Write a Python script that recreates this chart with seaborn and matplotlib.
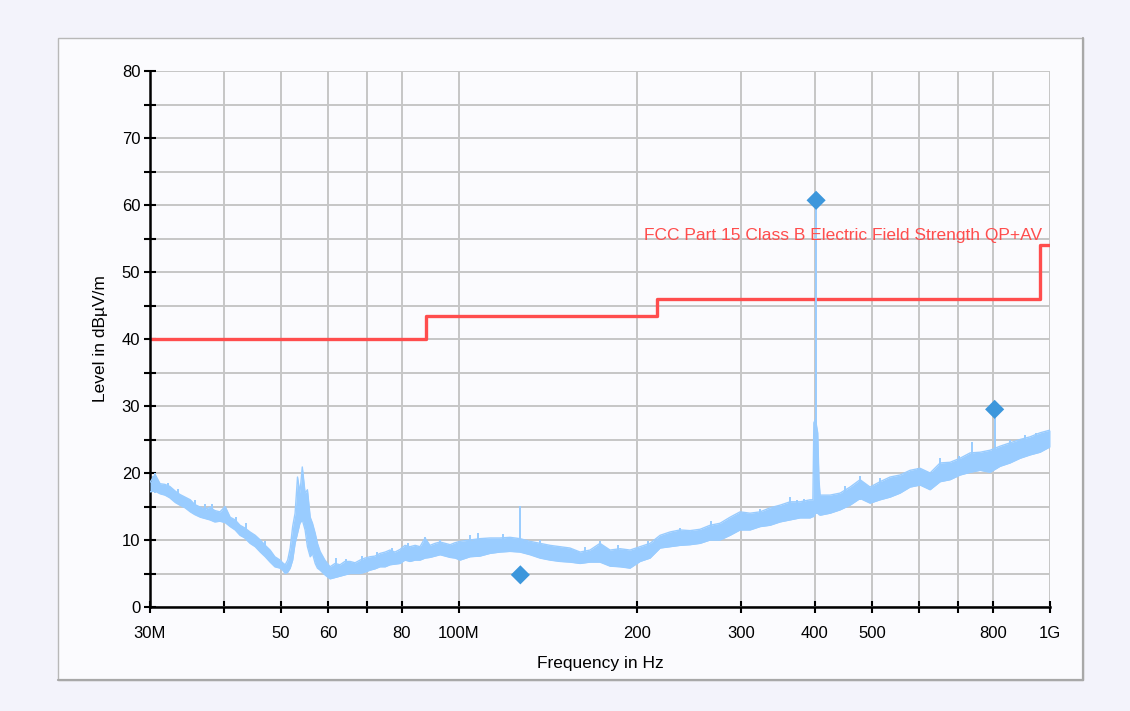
import numpy as np
import pandas as pd
import matplotlib
matplotlib.use("Agg")
import matplotlib.pyplot as plt
import seaborn as sns
from matplotlib.patches import Rectangle
from matplotlib.lines import Line2D
from matplotlib.ticker import FixedLocator, FixedFormatter, NullLocator, MultipleLocator

# ---------------- data ----------------
trace_freq_mhz = [
    30.0, 30.6, 31.2, 31.8, 32.4, 33.1, 33.7, 34.4, 35.1, 35.7,
    36.5, 37.2, 37.9, 38.6, 39.4, 40.2, 41.0, 41.8, 42.6, 43.4,
    44.3, 45.2, 46.1, 47.0, 47.9, 48.8, 49.8, 50.3, 50.8, 51.3,
    51.8, 52.3, 52.8, 53.3, 53.8, 54.3, 54.9, 55.4, 56.0, 56.5,
    57.1, 57.6, 58.2, 59.3, 60.5, 61.7, 62.9, 64.1, 65.4, 66.7,
    68.0, 69.3, 70.7, 72.1, 73.5, 75.0, 76.4, 77.9, 79.5, 81.0,
    82.6, 84.3, 85.9, 87.6, 89.3, 91.1, 92.9, 94.7, 96.6, 98.5,
    100.4, 104.4, 108.5, 112.8, 117.3, 122.0, 126.8, 131.9, 137.1, 142.6,
    148.2, 154.1, 160.3, 166.6, 173.2, 180.1, 187.3, 194.7, 202.5, 210.5,
    218.9, 227.6, 236.6, 246.0, 255.8, 266.0, 276.5, 287.5, 298.9, 310.8,
    323.2, 336.0, 349.4, 363.2, 377.7, 392.7, 397.0, 398.5, 401.0, 404.5,
    406.5, 408.3, 424.5, 441.4, 458.9, 477.1, 496.1, 515.8, 536.3, 557.6,
    579.8, 602.8, 626.8, 651.7, 677.6, 704.5, 732.5, 761.6, 791.8, 823.3,
    856.0, 890.0, 925.4, 962.1, 1000.0,
]
trace_hi = [
    18.6, 19.8, 18.4, 18.3, 18.0, 17.3, 16.8, 16.4, 16.0, 15.3,
    14.9, 14.6, 14.9, 14.4, 14.2, 15.0, 13.4, 13.0, 12.2, 11.8,
    11.2, 10.7, 10.0, 9.2, 8.5, 7.5, 7.0, 6.6, 6.3, 7.0,
    8.8, 12.0, 14.0, 19.4, 17.0, 20.9, 17.0, 17.5, 13.4, 12.5,
    11.0, 9.5, 8.3, 7.0, 6.0, 6.5, 6.3, 6.8, 6.8, 6.6,
    7.0, 7.3, 7.5, 7.6, 8.0, 8.2, 8.5, 8.2, 8.6, 9.2,
    9.0, 9.2, 9.0, 10.3, 9.2, 9.5, 9.7, 9.5, 9.3, 9.6,
    9.8, 10.0, 10.2, 10.3, 10.3, 10.4, 10.2, 9.8, 9.5, 9.2,
    9.0, 8.8, 8.2, 8.5, 9.5, 8.5, 8.7, 8.5, 9.0, 9.5,
    10.7, 11.2, 11.5, 11.4, 11.6, 12.2, 12.5, 13.4, 14.2, 14.0,
    14.2, 14.8, 15.2, 15.7, 15.7, 16.0, 16.0, 27.5, 28.0, 26.0,
    19.0, 16.7, 16.7, 17.0, 17.9, 19.0, 17.9, 18.7, 19.4, 19.7,
    20.4, 20.7, 20.0, 21.5, 21.6, 22.2, 23.0, 23.1, 23.4, 24.0,
    24.5, 25.0, 25.4, 26.0, 26.4,
]
trace_lo = [
    17.2, 17.3, 16.9, 16.7, 16.3, 15.6, 15.2, 14.8, 14.2, 13.8,
    13.4, 13.2, 13.0, 12.7, 12.8, 12.6, 12.0, 11.5, 10.7, 10.3,
    9.5, 9.0, 8.2, 7.5, 6.7, 6.0, 5.8, 5.5, 5.0, 5.2,
    5.8, 7.0, 9.5, 11.0, 12.5, 13.0, 11.5, 9.0, 7.5, 8.0,
    6.5, 5.8, 5.5, 4.8, 4.2, 4.4, 4.6, 4.8, 5.0, 5.0,
    5.0, 5.2, 5.5, 5.7, 6.0, 6.0, 6.3, 6.4, 6.5, 7.0,
    6.8, 7.0, 7.0, 7.3, 7.4, 7.6, 7.8, 7.6, 7.4, 7.3,
    7.0, 7.5, 7.6, 8.0, 8.2, 8.3, 8.2, 7.8, 7.3, 7.0,
    6.8, 6.7, 6.5, 6.7, 6.7, 6.1, 6.0, 5.8, 6.8, 7.3,
    8.8, 9.0, 9.2, 9.3, 9.5, 10.0, 10.0, 10.7, 11.5, 11.5,
    12.0, 12.2, 12.7, 13.0, 13.3, 13.3, 13.5, 13.5, 14.0, 14.0,
    13.8, 13.7, 14.0, 14.5, 15.2, 16.2, 15.5, 16.0, 16.4, 17.0,
    17.9, 18.2, 17.5, 18.7, 19.0, 19.7, 20.1, 20.4, 20.1, 21.0,
    21.5, 22.2, 22.7, 23.1, 23.9,
]

# narrow peaks standing out of the noise band
spike_freq_mhz = [
    30.4, 30.6, 31.0, 32.2, 33.4, 35.7, 37.2, 38.2, 40.2, 42.0,
    43.6, 47.0, 62.0, 64.3, 68.5, 72.6, 77.0, 82.0, 87.6, 92.9,
    104.4, 107.5, 118.8, 127.0, 137.1, 163.4, 173.2, 185.8, 208.9, 236.6,
    267.0, 293.0, 323.2, 355.6, 363.2, 373.0, 383.5, 402.0, 450.0, 477.1,
    515.8, 597.0, 651.7, 702.0, 737.0, 806.0, 856.0, 906.0, 948.0,
]
spike_top = [
    19.5, 20.0, 19.0, 18.5, 17.6, 16.0, 15.3, 15.4, 15.0, 13.5,
    12.6, 9.8, 7.3, 7.1, 7.6, 8.2, 8.8, 9.5, 10.5, 10.0,
    10.8, 11.0, 10.9, 15.1, 10.0, 9.0, 9.8, 9.2, 9.8, 11.8,
    12.8, 13.6, 14.6, 15.2, 16.4, 16.0, 16.1, 60.6, 18.0, 19.5,
    19.2, 20.7, 22.2, 22.6, 24.6, 29.5, 25.0, 25.7, 26.0,
]
spike_base = [
    17.5, 17.0, 17.0, 16.5, 15.5, 14.0, 13.3, 13.2, 13.0, 11.5,
    10.5, 7.8, 5.3, 5.1, 5.6, 6.2, 6.8, 7.5, 8.0, 8.0,
    8.8, 9.0, 8.9, 9.0, 8.0, 7.0, 7.0, 7.2, 7.8, 9.8,
    10.8, 11.6, 12.6, 13.2, 14.0, 14.0, 14.1, 16.0, 16.0, 16.0,
    17.2, 18.7, 19.0, 20.6, 21.0, 22.0, 23.0, 23.7, 24.0,
]

marker_freq_mhz = [127.0, 402.0, 806.0]
marker_level = [4.8, 60.7, 29.5]

limit_freq_mhz = [30, 88, 88, 216, 216, 960, 960, 1000]
limit_level = [40, 40, 43.5, 43.5, 46, 46, 54, 54]
limit_name = "FCC Part 15 Class B Electric Field Strength QP+AV"

xtick_mhz = [30, 40, 50, 60, 70, 80, 100, 200, 300, 400, 500, 600, 700, 800, 1000]
xtick_labels = ["30M", "", "50", "60", "", "80", "100M", "200", "300", "400", "500", "", "", "800", "1G"]

# ---------------- style ----------------
sns.set_theme(style="white")
plt.rcParams["font.family"] = ["Liberation Sans", "DejaVu Sans"]

W, H = 1130, 711
BG = "#f3f3fb"
PANEL = "#fbfbfe"
TRACE = "#99ccff"
RED = "#ff4d4d"
MARK = "#3d97dc"

fig = plt.figure(figsize=(W / 100, H / 100), dpi=100, facecolor=BG)

# panel box (behind the axes)
px0, py0, px1, py1 = 57.5, 37.5, 1083, 680
fig.patches.append(Rectangle((px0 / W, 1 - py1 / H), (px1 - px0) / W, (py1 - py0) / H,
                             transform=fig.transFigure, facecolor=PANEL,
                             edgecolor="#b8b8b8", lw=1.0, zorder=-10))
fig.lines.append(Line2D([px1 / W, px1 / W], [1 - py1 / H, 1 - py0 / H], transform=fig.transFigure,
                        color="#a8a8a8", lw=1.6, zorder=-9))
fig.lines.append(Line2D([px0 / W, px1 / W], [1 - py1 / H, 1 - py1 / H], transform=fig.transFigure,
                        color="#a8a8a8", lw=1.6, zorder=-9))

ax = fig.add_axes([150 / W, 1 - 607 / H, 900 / W, 536 / H])
ax.set_zorder(5)
ax.set_facecolor(PANEL)

df = pd.DataFrame({"freq": np.array(trace_freq_mhz) * 1e6,
                   "hi": trace_hi, "lo": trace_lo})
lim = pd.DataFrame({"freq": np.array(limit_freq_mhz) * 1e6, "level": limit_level})
mk = pd.DataFrame({"freq": np.array(marker_freq_mhz) * 1e6, "level": marker_level})

sns.lineplot(data=lim, x="freq", y="level", sort=False, estimator=None,
             color=RED, lw=2.4, ax=ax, zorder=2)

ax.fill_between(df["freq"], df["lo"], df["hi"], color=TRACE, lw=0, zorder=3)
sns.lineplot(data=df, x="freq", y="hi", estimator=None, color=TRACE, lw=1.0, ax=ax, zorder=3)
sns.lineplot(data=df, x="freq", y="lo", estimator=None, color=TRACE, lw=1.0, ax=ax, zorder=3)
ax.vlines(np.array(spike_freq_mhz) * 1e6, spike_base, spike_top, colors=TRACE, lw=1.4, zorder=3)

sns.scatterplot(data=mk, x="freq", y="level", marker="D", s=95, color=MARK,
                edgecolor="none", ax=ax, zorder=5)

ax.text(969e6, 54.8, limit_name, color=RED, fontsize=12.5, ha="right", va="baseline", zorder=4)

ax.set_xscale("log")
ax.set_xlim(30e6, 1e9)
ax.set_ylim(0, 80)
ax.xaxis.set_major_locator(FixedLocator([v * 1e6 for v in xtick_mhz]))
ax.xaxis.set_major_formatter(FixedFormatter(xtick_labels))
ax.xaxis.set_minor_locator(NullLocator())
ax.yaxis.set_major_locator(MultipleLocator(10))
ax.yaxis.set_minor_locator(MultipleLocator(5))

ax.set_axisbelow(True)
ax.grid(True, which="both", color="#c6c6c6", lw=1.4)

ax.tick_params(axis="x", which="major", direction="inout", length=9, width=1.5,
               color="black", labelcolor="black", labelsize=12, pad=9, bottom=True)
ax.tick_params(axis="y", which="both", direction="inout", length=8, width=1.5,
               color="black", labelcolor="black", labelsize=12, pad=3, left=True)

for s in ["top", "right"]:
    ax.spines[s].set_visible(False)
for s in ["left", "bottom"]:
    ax.spines[s].set_color("black")
    ax.spines[s].set_linewidth(1.8)

ax.set_xlabel("Frequency in Hz", fontsize=12.5, labelpad=11, color="black")
ax.set_ylabel("Level in dB\u00b5V/m", fontsize=12.5, labelpad=10, color="black")

fig.savefig("out.png", dpi=100, facecolor=BG)
